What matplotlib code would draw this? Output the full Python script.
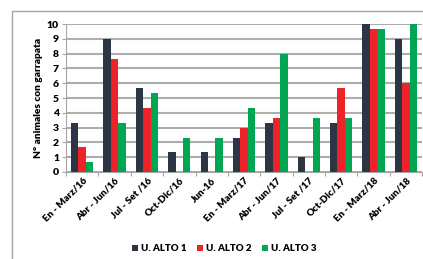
import numpy as np
import matplotlib.pyplot as plt
from matplotlib.patches import Rectangle

categories = ['En - Marz/16', 'Abr - Jun/16', 'Jul - Set /16', 'Oct-Dic/16', 'Jun-16',
              'En - Marz/17', 'Abr - Jun/17', 'Jul - Set /17', 'Oct-Dic/17',
              'En - Marz/18', 'Abr - Jun/18']
alto1 = [3.33, 9, 5.67, 1.33, 1.33, 2.33, 3.33, 1, 3.33, 10, 9]
alto2 = [1.67, 7.67, 4.33, 0, 0, 3, 3.67, 0, 5.67, 9.67, 6]
alto3 = [0.67, 3.33, 5.33, 2.33, 2.33, 4.33, 8, 3.67, 3.67, 9.67, 10]

plt.rcParams['font.family'] = ['Lato', 'DejaVu Sans']
plt.rcParams['font.weight'] = 'heavy'

fig = plt.figure(figsize=(4.23, 2.59), dpi=100)
fig.patches.append(Rectangle((12 / 423, -0.1), 1.2, 1 - 11 / 259 + 0.1,
                             transform=fig.transFigure, fill=False,
                             edgecolor='#a6a6a6', linewidth=1))
ax = fig.add_axes([0.156, 0.336, 0.842, 0.571])

x = np.arange(len(categories))
w = 0.23
ax.bar(x - w, alto1, w, color='#2b3544', label='U. ALTO 1', zorder=3)
ax.bar(x, alto2, w, color='#ee2229', label='U. ALTO 2', zorder=3)
ax.bar(x + w, alto3, w, color='#00a651', label='U. ALTO 3', zorder=3)

ax.set_ylim(0, 10)
ax.set_xlim(-0.5, len(categories) - 0.5)
ax.set_yticks(range(11))
ax.yaxis.grid(True, color='#adadad', linewidth=1.5, zorder=0)
ax.set_xticks(np.arange(len(categories) + 1) - 0.5)
ax.set_xticklabels([])
ax.set_xticks(x, minor=True)
ax.set_xticklabels(categories, minor=True, rotation=45, ha='right',
                   rotation_mode='anchor', fontsize=7, fontweight='heavy')
ax.tick_params(axis='x', which='minor', length=0, pad=3)
ax.tick_params(axis='x', which='major', length=3, color='#a6a6a6')
ax.tick_params(axis='y', length=3, color='#a6a6a6', labelsize=7.5, pad=2)
for s in ['top', 'right']:
    ax.spines[s].set_visible(False)
for s in ['left', 'bottom']:
    ax.spines[s].set_color('#a6a6a6')
ax.set_ylabel('N° animales con garrapata', fontsize=7.3, fontweight='heavy', labelpad=3)

fig.legend(loc='center', bbox_to_anchor=(0.53, 0.039), ncol=3, frameon=False,
           fontsize=7, handlelength=0.7, handleheight=0.7, handletextpad=0.3,
           columnspacing=1.0)

fig.savefig('out.png', dpi=100)
